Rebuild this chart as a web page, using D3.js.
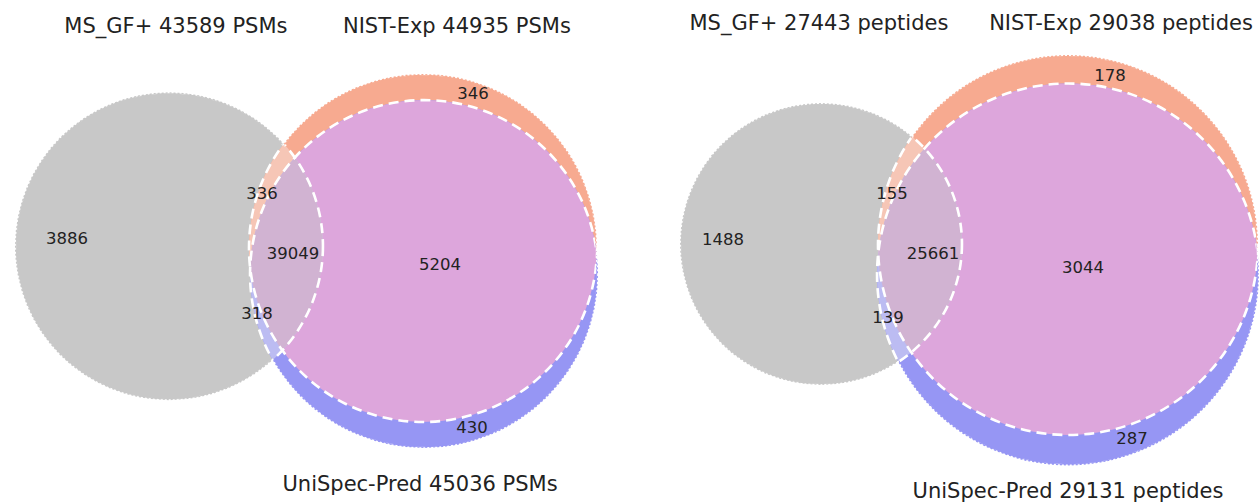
<!DOCTYPE html>
<html>
<head>
<meta charset="utf-8">
<script src="https://cdn.jsdelivr.net/npm/d3@7"></script>
<style>
  body { margin: 0; background: #fff; }
  text { font-family: "DejaVu Sans", sans-serif; fill: #222; }
</style>
</head>
<body>
<div id="venn"></div>
<script>
var svgWidth = 1259;
var svgHeight = 504;

// Data
var setNames = ["MS_GF+", "NIST-Exp", "UniSpec-Pred"];
var units = ["PSMs", "peptides"];
var psmTotals = [43589, 44935, 45036];
var peptideTotals = [27443, 29038, 29131];
// region keys: MS_GF+ / NIST-Exp / UniSpec-Pred membership
var regionKeys = ["100", "010", "001", "110", "101", "011", "111"];
var psmRegions = [3886, 346, 430, 336, 318, 5204, 39049];
var peptideRegions = [1488, 178, 287, 155, 139, 3044, 25661];

var regionColors = {
    "100": "#c8c8c8",
    "010": "#f7aa90",
    "001": "#9696f4",
    "110": "#f6c6b6",
    "101": "#bcbcf2",
    "011": "#dda6dc",
    "111": "#d1b3d2"
};

// Layout in venn units (NIST-Exp circle is the unit circle, y up)
var layouts = [
    {
        cx: 423, cy: 248, px: 174,
        circles: [[-1.46, 0.01, 0.885], [0, 0, 1], [0.006, -0.15, 1]],
        labels: [[-2.046, 0.057], [0.287, 0.891], [0.282, -1.029], [-0.925, 0.316],
                 [-0.954, -0.374], [0.098, -0.092], [-0.747, -0.029]],
        titles: [[-1.42, 1.236], [0.195, 1.236], [-0.017, -1.397]]
    },
    {
        cx: 1068, cy: 245, px: 190,
        circles: [[-1.30, 0.005, 0.742], [0, 0, 1], [0, -0.155, 1.005]],
        labels: [[-1.816, 0.032], [0.221, 0.895], [0.337, -1.016], [-0.926, 0.274],
                 [-0.947, -0.379], [0.079, -0.116], [-0.711, -0.042]],
        titles: [[-1.311, 1.132], [0.279, 1.132], [0, -1.332]]
    }
];

var panelData = [
    { totals: psmTotals, regions: psmRegions, unit: units[0] },
    { totals: peptideTotals, regions: peptideRegions, unit: units[1] }
];

var svg = d3.select("#venn")
    .append("svg")
    .attr("width", svgWidth)
    .attr("height", svgHeight);

var defs = svg.append("defs");

function disc(parent, c, fill, dr) {
    return parent.append("circle")
        .attr("cx", c.cx)
        .attr("cy", c.cy)
        .attr("r", c.r + (dr || 0))
        .attr("fill", fill);
}

function addMask(id) {
    return defs.append("mask")
        .attr("id", id)
        .attr("maskUnits", "userSpaceOnUse")
        .attr("x", 0).attr("y", 0)
        .attr("width", svgWidth).attr("height", svgHeight);
}

layouts.forEach(function(lay, p) {
    var data = panelData[p];

    var x = d3.scaleLinear().domain([-1, 1]).range([lay.cx - lay.px, lay.cx + lay.px]);
    var y = d3.scaleLinear().domain([-1, 1]).range([lay.cy + lay.px, lay.cy - lay.px]);

    var circ = lay.circles.map(function(c) {
        return { cx: x(c[0]), cy: y(c[1]), r: x(c[2]) - x(0) };
    });

    circ.forEach(function(c, i) {
        disc(defs.append("clipPath").attr("id", "clip" + p + i), c, "black");
    });

    var g = svg.append("g");

    // region fills
    disc(g, circ[0], regionColors["100"]);
    disc(g, circ[1], regionColors["010"]);
    disc(g, circ[2], regionColors["001"]);
    disc(g.append("g").attr("clip-path", "url(#clip" + p + "1)"), circ[2], regionColors["011"]);

    var inA = g.append("g").attr("clip-path", "url(#clip" + p + "0)");
    disc(inA, circ[1], regionColors["110"]);
    disc(inA, circ[2], regionColors["101"]);
    disc(inA.append("g").attr("clip-path", "url(#clip" + p + "1)"), circ[2], regionColors["111"]);

    // masks: inner part of union, and a thin ring along the outer edge
    var inner = addMask("inner" + p);
    circ.forEach(function(c) { disc(inner, c, "white", -1.6); });
    var ring = addMask("ring" + p);
    circ.forEach(function(c) { disc(ring, c, "white", 3); });
    circ.forEach(function(c) { disc(ring, c, "black", -1.4); });

    // ragged outer edge
    g.append("g")
        .attr("mask", "url(#ring" + p + ")")
        .selectAll("circle")
        .data(circ)
        .join("circle")
        .attr("cx", d => d.cx)
        .attr("cy", d => d.cy)
        .attr("r", d => d.r)
        .attr("fill", "none")
        .attr("stroke", "white")
        .attr("stroke-width", 1.8)
        .attr("stroke-dasharray", "2 2");

    // dashed white circle outlines
    g.append("g")
        .attr("mask", "url(#inner" + p + ")")
        .selectAll("circle")
        .data(circ)
        .join("circle")
        .attr("cx", d => d.cx)
        .attr("cy", d => d.cy)
        .attr("r", d => d.r)
        .attr("fill", "none")
        .attr("stroke", "white")
        .attr("stroke-width", 2.6)
        .attr("stroke-dasharray", "10 6");

    // region counts
    g.append("g")
        .selectAll("text")
        .data(regionKeys)
        .join("text")
        .attr("x", (d, i) => x(lay.labels[i][0]))
        .attr("y", (d, i) => y(lay.labels[i][1]))
        .attr("dy", "0.36em")
        .attr("text-anchor", "middle")
        .style("font-size", "16.5px")
        .text((d, i) => data.regions[i]);

    // set labels
    g.append("g")
        .selectAll("text")
        .data(setNames)
        .join("text")
        .attr("x", (d, i) => x(lay.titles[i][0]))
        .attr("y", (d, i) => y(lay.titles[i][1]))
        .attr("text-anchor", "middle")
        .style("font-size", "21px")
        .text((d, i) => d + " " + data.totals[i] + " " + data.unit);
});
</script>
</body>
</html>
